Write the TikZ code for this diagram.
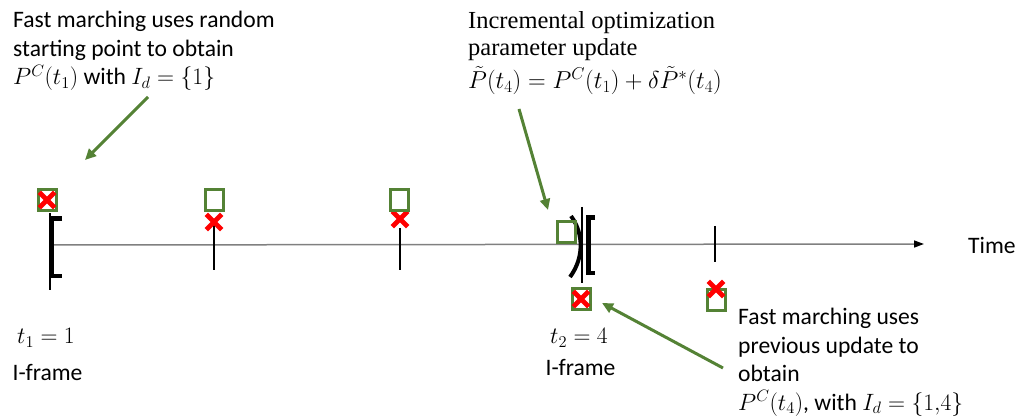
\RequirePackage{fix-cm}
\documentclass[tikz,border=0pt]{standalone}
\usepackage{fontspec}
\newfontfamily\calib{Carlito}
\newfontfamily\tnr{Liberation Serif}
\usetikzlibrary{arrows.meta,shapes.misc}
\definecolor{grn}{RGB}{84,130,53}
\definecolor{axgray}{RGB}{128,128,128}
\tikzset{
  sq/.style={draw=grn, line width=3pt, minimum width=18pt, minimum height=21pt, inner sep=0pt},
  xm/.style={cross out, draw=red, line width=4.8pt, minimum width=10.5pt, minimum height=10.5pt, inner sep=0pt},
  garrow/.style={draw=grn, line width=3pt, -{Triangle[length=11pt,width=10pt]}},
  tickline/.style={line width=1.8pt},
  sans/.style={font=\calib\fontsize{23.6}{28.5}\selectfont},
  serif/.style={font=\tnr\fontsize{24.5}{27}\selectfont},
  mathlbl/.style={font=\fontsize{23.5}{28}\selectfont},
  lbl/.style={inner sep=0pt, align=left},
}
\begin{document}
\begin{tikzpicture}[x=1pt,y=-1pt]
\useasboundingbox (0,0) rectangle (1020,419);
% time axis
\coordinate (axs) at (50,245);
\coordinate (axe) at (924,244);
\draw[axgray, line width=1.5pt, -{Triangle[length=10pt,width=7pt,color=black]}] (axs) -- (axe);
\node[sans, lbl, anchor=west] (time) at (968,245) {Time};
% t1 I-frame bracket
\coordinate (b1t) at (50,213);
\coordinate (b1b) at (50,290);
\draw[line width=2.5pt] (b1t) -- (b1b);
\draw[line width=4.5pt] (62,218.5) -- (51.5,218.5) -- (51.5,276) -- (62,276);
% ticks
\coordinate (k2t) at (214,225); \coordinate (k2b) at (214,270);
\coordinate (k3t) at (400,228); \coordinate (k3b) at (400,270);
\coordinate (k5t) at (715,226); \coordinate (k5b) at (715,262);
\draw[tickline] (k2t) -- (k2b);
\draw[tickline] (k3t) -- (k3b);
\draw[tickline] (k5t) -- (k5b);
% t2 I-frame
\coordinate (b2t) at (582,207);
\coordinate (b2b) at (582,283);
\draw[line width=2pt] (b2t) -- (b2b);
\draw[line width=4pt] (571,216) .. controls (584,234) and (584,258) .. (570,277);
\draw[line width=4.5pt] (595,217.5) -- (588.5,217.5) -- (588.5,273) -- (595,273);
% squares and crosses
\node[sq] (s1) at (47.5,200) {};
\node[xm] (x1) at (47,200) {};
\node[xm] (x2) at (214,222) {};
\node[sq] (s2) at (214,200) {};
\node[xm] (x3) at (400,219) {};
\node[sq] (s3) at (399,200) {};
\node[sq] (s4) at (566,232) {};
\node[sq] (s5) at (581,299) {};
\node[xm] (x5) at (581,299) {};
\node[sq] (s6) at (716,300) {};
\node[xm] (x6) at (716,289) {};
% texts
\node[sans, lbl, anchor=north west] (tl) at (13,11)
  {Fast marching uses random\\starting point to obtain\\$P^C(t_1)$ with $I_d=\{1\}$};
\node[serif, lbl, anchor=north west] (tm) at (468,11)
  {Incremental optimization\\parameter update\\[5pt]$\tilde{P}(t_4)=P^C(t_1)+\delta\tilde{P}^*(t_4)$};
\node[mathlbl, lbl] (t1l) at (46,338) {$t_1=1$};
\node[sans, lbl] (if1) at (47.5,372) {I-frame};
\node[mathlbl, lbl] (t2l) at (579,338) {$t_2=4$};
\node[sans, lbl] (if2) at (580.5,367) {I-frame};
\node[sans, lbl, anchor=north west] (br) at (738,308)
  {Fast marching uses\\previous update to\\obtain\\$P^C(t_4)$, with $I_d=\{1{,}4\}$};
% green arrows
\coordinate (a1s) at (148,97);  \coordinate (a1e) at (85,160);
\coordinate (a2s) at (519,109); \coordinate (a2e) at (548,210);
\coordinate (a3s) at (723,368); \coordinate (a3e) at (602,303);
\draw[garrow] (a1s) -- (a1e);
\draw[garrow] (a2s) -- (a2e);
\draw[garrow] (a3s) -- (a3e);
\end{tikzpicture}
\end{document}
